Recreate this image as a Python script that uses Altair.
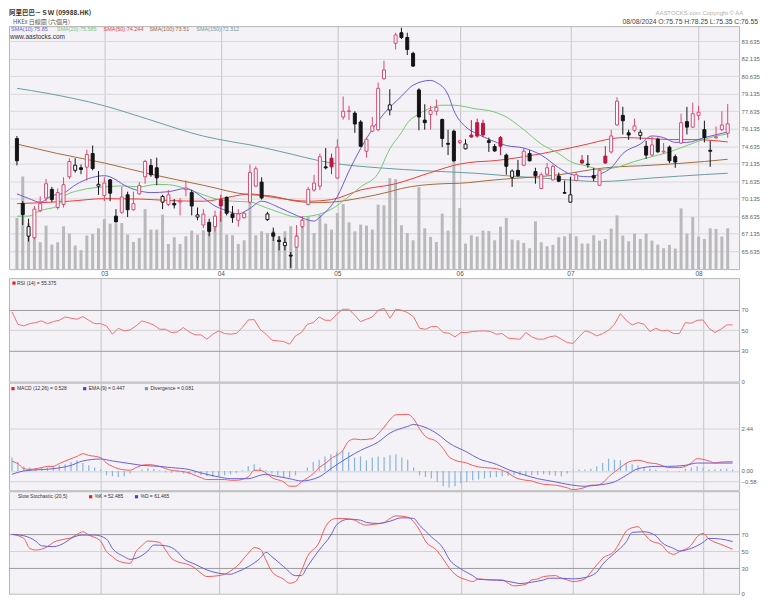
import altair as alt
import pandas as pd

# ------------------------------------------------------------------ data
OPEN = [75.29, 69.72, 66.91, 66.78, 69.10, 70.19, 70.92, 69.37, 69.64, 72.01,
        72.56, 72.78, 72.83, 74.00, 71.20, 70.40, 71.74, 68.63, 68.96, 70.46,
        69.18, 70.54, 72.01, 72.97, 72.78, 69.83, 69.64, 69.72, 69.83, 70.90,
        70.65, 68.55, 67.87, 68.09, 67.73, 70.05, 70.24, 68.82, 68.28, 68.50,
        69.83, 71.20, 71.55, 68.33, 67.19, 66.56, 66.10, 65.28, 65.96, 67.73,
        69.64, 70.87, 71.20, 72.86, 73.60, 71.90, 77.14, 77.60, 77.47, 76.71,
        74.20, 75.92, 76.05, 80.42, 77.74, 83.47, 84.37, 83.96, 82.60, 79.46,
        76.87, 77.36, 77.63, 76.92, 74.88, 75.92, 74.96, 74.41, 75.59, 76.65,
        76.60, 75.10, 74.60, 75.37, 73.87, 71.96, 72.56, 73.00, 74.00, 72.45,
        71.00, 72.23, 71.74, 72.07, 70.65, 69.83, 71.69, 73.43, 73.10, 72.10,
        71.28, 73.78, 74.14, 76.46, 77.28, 75.78, 76.00, 75.56, 74.63, 73.87,
        75.23, 74.14, 74.55, 73.73, 74.90, 76.74, 76.27, 77.28, 76.05, 74.28,
        75.35, 76.05, 75.75]
HIGH = [75.51, 69.91, 68.41, 69.50, 70.32, 71.82, 71.14, 71.00, 71.96, 73.60,
        73.60, 73.05, 74.33, 74.69, 72.50, 71.96, 71.82, 69.23, 71.14, 70.73,
        70.73, 71.55, 73.46, 73.54, 73.65, 70.46, 70.87, 70.10, 70.19, 71.69,
        70.87, 69.37, 69.23, 68.41, 69.10, 70.46, 70.32, 69.50, 69.23, 68.96,
        73.05, 72.91, 71.96, 69.00, 67.65, 66.91, 66.78, 65.55, 67.87, 68.63,
        71.14, 72.18, 74.00, 74.47, 74.00, 75.23, 78.90, 78.10, 77.63, 76.87,
        75.37, 77.14, 80.10, 81.97, 79.52, 84.37, 84.80, 84.37, 82.73, 79.60,
        78.23, 78.10, 78.64, 77.00, 76.05, 76.05, 75.18, 75.23, 76.87, 77.00,
        76.90, 75.37, 74.82, 75.51, 74.00, 72.64, 73.46, 74.47, 74.28, 72.78,
        72.37, 73.19, 73.05, 72.37, 71.69, 72.01, 72.37, 73.87, 73.87, 72.78,
        72.64, 74.63, 76.05, 78.83, 78.01, 76.05, 77.00, 76.05, 75.10, 75.45,
        75.37, 74.91, 74.69, 73.92, 77.42, 78.01, 78.37, 78.10, 76.82, 75.10,
        76.33, 77.63, 78.25]
LOW = [72.99, 67.87, 66.45, 66.64, 68.96, 69.78, 69.83, 69.18, 69.37, 71.82,
       72.37, 72.23, 71.69, 72.56, 70.46, 69.91, 69.91, 68.09, 68.82, 68.55,
       69.10, 70.46, 71.41, 72.01, 71.28, 69.23, 69.50, 69.29, 68.69, 70.32,
       68.69, 68.28, 67.60, 66.91, 67.32, 68.14, 68.69, 68.06, 67.73, 68.41,
       69.70, 71.14, 70.05, 68.22, 66.50, 65.69, 65.69, 64.19, 65.90, 67.60,
       69.56, 70.73, 70.87, 72.64, 72.23, 71.82, 76.92, 76.87, 75.78, 74.55,
       73.65, 75.83, 75.92, 80.36, 77.28, 82.93, 83.83, 82.46, 81.45, 76.00,
       76.05, 76.05, 77.28, 74.55, 73.87, 73.32, 74.82, 74.36, 75.37, 75.37,
       75.40, 74.14, 74.14, 73.87, 72.18, 71.14, 72.01, 72.91, 73.32, 71.41,
       70.95, 72.10, 71.69, 71.55, 70.54, 69.78, 71.63, 73.10, 72.78, 71.63,
       71.23, 73.10, 74.00, 76.38, 75.64, 75.18, 75.83, 75.18, 73.54, 73.78,
       74.09, 74.00, 73.19, 72.78, 74.82, 75.64, 76.19, 76.87, 74.96, 72.86,
       75.29, 75.92, 75.35]
CLOSE = [73.38, 68.77, 67.73, 69.23, 69.70, 71.41, 70.05, 70.65, 71.33, 73.32,
         73.00, 72.64, 73.92, 72.72, 71.36, 71.47, 70.60, 68.14, 70.27, 69.18,
         69.70, 71.25, 73.32, 72.18, 71.91, 70.32, 70.46, 69.59, 69.91, 71.04,
         69.50, 68.74, 68.80, 67.32, 68.63, 69.50, 68.88, 68.50, 68.82, 68.88,
         72.37, 72.70, 70.19, 68.82, 66.91, 66.45, 66.37, 65.20, 66.91, 68.28,
         70.92, 71.47, 73.73, 72.78, 72.86, 74.55, 77.63, 77.66, 76.54, 74.63,
         75.23, 76.38, 79.60, 81.18, 78.18, 84.18, 83.96, 82.93, 81.51, 77.14,
         76.65, 77.69, 77.96, 75.29, 74.80, 73.38, 75.10, 74.82, 75.42, 75.50,
         75.60, 74.96, 74.23, 74.63, 72.91, 72.50, 72.10, 74.20, 73.38, 72.10,
         72.18, 72.78, 72.91, 71.63, 70.60, 70.46, 72.18, 73.19, 73.05, 71.90,
         72.56, 73.19, 75.51, 78.50, 76.82, 75.59, 76.38, 75.83, 73.87, 74.74,
         74.14, 74.20, 73.38, 73.27, 76.65, 76.27, 77.42, 77.55, 75.37, 74.20,
         75.42, 76.45, 76.55]
VOLUME = [51.3, 93, 46, 36, 27, 43.7, 24.7, 27, 43, 35.7,
          23.7, 19, 33.7, 35.3, 41, 50.3, 45.7, 46, 46.3, 34.7,
          27.3, 31.3, 60.3, 39.7, 39.7, 54.7, 25.3, 32, 25.3, 33,
          38.7, 34.7, 39, 43.7, 53.7, 58, 34.7, 34, 25.3, 29,
          69.7, 34, 38, 36.3, 38.7, 33, 38, 43, 34.7, 49.7,
          53, 36.3, 54.7, 45.7, 39.7, 56.3, 65.3, 47, 38, 44.7,
          43.7, 39.7, 64.7, 64, 91.3, 90.3, 44, 36.3, 29, 82.3,
          41, 32.3, 27.3, 55.7, 38.7, 120, 61.3, 25.7, 34, 32.7,
          38.7, 38.3, 29, 42.7, 51.3, 29.7, 29, 26.3, 21, 48,
          27, 23, 24.3, 32, 33, 35.7, 33, 25.7, 25.7, 34,
          28.7, 30.3, 40.7, 54, 33.7, 28, 35.7, 30.3, 35.7, 28.7,
          24.7, 21, 24.3, 20.7, 61, 35.7, 52.3, 32.7, 30.3, 41,
          40.3, 32.7, 41]

MONTH_IDX = [15, 35, 55, 76, 95, 117]
MONTH_LBL = ["03", "04", "05", "06", "07", "08"]
PRICE_TICKS = [65.635, 67.135, 68.635, 70.135, 71.635, 73.135, 74.635,
               76.135, 77.635, 79.135, 80.635, 82.135, 83.635]
RSI_TICKS = [0, 30, 50, 70]
MACD_TICKS = [-0.58, 0.0, 2.44]
STOCH_TICKS = [0, 30, 50, 70, 100]

SMA10_IDX = [0, 2, 4, 6, 8, 10, 13, 15, 17, 18, 21, 23, 26, 29, 32, 34, 36, 38, 39, 40,
             42, 45, 48, 51, 52, 55, 57, 60, 63, 66, 68, 71, 72, 74, 75, 77, 79, 81, 84, 87,
             90, 93, 95, 98, 100, 102, 104, 107, 109, 111, 113, 115, 118, 122]
SMA10_VAL = [70.54, 70.15, 69.83, 70.38, 70.60, 71.30, 71.96, 72.10, 71.75, 71.41,
             70.80, 70.65, 70.73, 71.00, 70.19, 69.50, 69.10, 68.82, 69.00, 69.30,
             69.91, 69.37, 68.69, 68.20, 68.55, 70.32, 72.50, 75.30, 77.42, 78.92,
             79.87, 80.28, 80.10, 79.05, 77.69, 76.30, 75.70, 75.23, 74.69, 74.47,
             73.87, 72.78, 72.23, 72.01, 72.23, 72.78, 74.00, 74.82, 75.51, 75.37,
             74.96, 74.96, 75.37, 75.85]
SMA20_IDX = [0, 2, 4, 7, 8, 11, 15, 18, 21, 24, 26, 29, 32, 34, 37, 40, 42, 45, 48, 51,
             54, 57, 59, 62, 64, 66, 67, 69, 71, 73, 75, 79, 81, 84, 87, 90, 93, 95, 98, 100,
             103, 106, 109, 112, 115, 118, 122]
SMA20_VAL = [68.63, 68.63, 69.10, 69.50, 70.30, 70.87, 71.14, 71.22, 71.14, 71.36,
             71.33, 71.00, 70.46, 70.13, 69.91, 69.85, 69.50, 68.96, 68.55, 68.69,
             69.23, 70.32, 71.14, 72.30, 74.40, 75.80, 76.60, 77.40, 77.90, 78.15,
             78.15, 77.82, 77.69, 77.14, 76.05, 74.82, 74.00, 73.32, 72.91, 72.64,
             72.83, 73.32, 73.73, 74.14, 74.69, 75.23, 75.70]
SMA50_IDX = [0, 4, 9, 15, 21, 26, 32, 37, 40, 43, 50, 54, 59, 65, 71, 76, 79, 81, 87, 93,
             98, 101, 104, 108, 112, 116, 122]
SMA50_VAL = [69.70, 69.78, 69.91, 70.13, 70.10, 69.97, 69.91, 70.32, 70.54, 70.32,
             69.91, 70.05, 70.87, 71.41, 72.37, 73.10, 73.30, 73.35, 73.73, 74.28,
             74.82, 75.18, 75.37, 75.31, 75.20, 75.20, 75.00]
SMA100_IDX = [0, 7, 15, 23, 32, 40, 43, 48, 51, 54, 59, 64, 66, 73, 76, 82, 84, 93, 101, 109,
              118, 122]
SMA100_VAL = [74.82, 74.00, 73.19, 72.23, 71.28, 70.46, 70.40, 69.91, 69.78, 69.83,
              70.19, 70.73, 71.00, 71.41, 71.45, 71.74, 71.82, 72.18, 72.78, 73.00,
              73.32, 73.51]
SMA150_IDX = [0, 5, 15, 23, 32, 37, 40, 45, 54, 62, 71, 79, 84, 93, 100, 109, 118, 122]
SMA150_VAL = [79.60, 79.19, 78.10, 76.87, 75.50, 75.00, 74.75, 74.20, 73.19, 72.78,
              72.50, 72.30, 72.10, 71.80, 71.60, 71.90, 72.20, 72.31]

RSI = [68.1, 56.0, 54.4, 56.6, 57.6, 59.3, 56.6, 58.6, 59.9, 63.2,
       61.9, 60.9, 63.5, 59.9, 56.6, 56.6, 54.4, 46.3, 52.1, 49.5,
       50.5, 54.4, 59.3, 57.6, 55.3, 51.1, 51.1, 47.9, 48.5, 52.8,
       48.5, 45.6, 45.6, 41.4, 46.3, 49.5, 46.9, 46.3, 47.0, 52.8,
       60.2, 60.6, 51.1, 46.3, 40.4, 39.8, 39.1, 36.5, 44.6, 47.9,
       56.0, 57.6, 63.2, 59.9, 59.9, 65.8, 70.7, 70.7, 65.1, 58.6,
       60.9, 63.2, 69.7, 71.6, 61.9, 70.7, 69.7, 67.4, 63.2, 52.1,
       51.1, 53.7, 53.7, 47.9, 47.2, 43.7, 47.9, 47.9, 48.9, 49.3,
       49.5, 48.9, 46.3, 46.9, 42.4, 41.8, 41.4, 47.9, 43.7, 41.4,
       41.4, 43.7, 44.6, 41.4, 38.1, 37.2, 43.7, 49.5, 47.9, 44.6,
       46.9, 50.2, 56.0, 66.4, 59.9, 55.3, 57.6, 56.0, 48.9, 52.1,
       49.5, 50.2, 46.9, 46.9, 57.6, 57.0, 59.9, 60.2, 52.1, 47.9,
       51.1, 55.3, 55.4]

MACD_IDX = [0, 1, 2, 3, 5, 6, 7, 8, 10, 11, 12, 13, 15, 16, 17, 18, 20, 21, 22, 23,
            25, 26, 27, 28, 30, 31, 32, 33, 35, 36, 37, 38, 40, 41, 42, 43, 44, 46, 47, 48,
            49, 51, 52, 53, 54, 56, 57, 58, 59, 61, 62, 63, 64, 65, 67, 68, 69, 70, 72, 73,
            74, 75, 77, 78, 79, 80, 82, 83, 84, 85, 87, 88, 89, 90, 92, 93, 94, 95, 97, 98,
            99, 100, 101, 103, 104, 105, 106, 108, 109, 110, 111, 113, 114, 115, 116, 118, 119, 120, 122]
MACD_VAL = [0.55, 0.42, 0.13, 0.09, 0.19, 0.26, 0.26, 0.42, 0.70, 0.83,
            0.98, 0.89, 0.76, 0.45, 0.26, 0.13, 0.04, 0.19, 0.32, 0.36,
            0.26, 0.13, 0.04, 0.00, -0.11, -0.25, -0.38, -0.49, -0.49, -0.49,
            -0.53, -0.53, -0.34, 0.04, 0.04, -0.11, -0.38, -0.62, -0.87, -0.87,
            -0.62, -0.15, 0.19, 0.42, 0.70, 1.17, 1.70, 1.82, 1.78, 1.84,
            2.12, 2.50, 2.92, 3.20, 3.22, 2.97, 2.40, 1.97, 1.65, 1.27,
            0.80, 0.61, 0.45, 0.32, 0.23, 0.19, 0.13, 0.04, -0.11, -0.34,
            -0.53, -0.57, -0.68, -0.76, -0.81, -0.87, -0.96, -1.06, -0.94, -0.81,
            -0.81, -0.68, -0.34, 0.19, 0.45, 0.57, 0.61, 0.45, 0.42, 0.32,
            0.19, 0.19, 0.26, 0.45, 0.70, 0.57, 0.45, 0.51, 0.53]
EMA_IDX = [0, 2, 5, 7, 10, 12, 15, 17, 20, 22, 25, 27, 30, 32, 35, 37, 40, 42, 43, 44,
           47, 49, 52, 54, 57, 59, 62, 64, 67, 68, 69, 72, 74, 77, 79, 82, 84, 87, 89, 92,
           94, 97, 99, 102, 104, 106, 109, 111, 114, 116, 119, 122]
EMA_VAL = [-0.19, 0.00, 0.08, 0.13, 0.32, 0.57, 0.68, 0.57, 0.42, 0.32,
           0.26, 0.19, 0.08, -0.11, -0.34, -0.44, -0.44, -0.25, -0.19, -0.25,
           -0.44, -0.57, -0.34, 0.13, 0.79, 1.17, 1.65, 2.16, 2.54, 2.65,
           2.59, 2.12, 1.59, 1.08, 0.70, 0.38, 0.08, -0.25, -0.44, -0.62,
           -0.76, -0.87, -0.81, -0.62, -0.25, 0.13, 0.26, 0.26, 0.32, 0.45,
           0.45, 0.45]
DIVERGENCE = [0.76, 0.50, 0.27, 0.19, 0.13, 0.19, 0.19, 0.27, 0.32, 0.38,
              0.51, 0.61, 0.45, 0.32, 0.19, 0.08, -0.25, -0.30, -0.34, -0.30,
              -0.15, 0.00, 0.08, 0.15, 0.11, 0.04, -0.08, -0.11, -0.08, -0.15,
              -0.19, -0.15, -0.25, -0.30, -0.34, -0.30, -0.25, -0.19, -0.11, 0.04,
              0.27, 0.38, 0.19, 0.04, -0.15, -0.25, -0.34, -0.38, -0.25, 0.00,
              0.19, 0.51, 0.64, 0.83, 0.95, 1.08, 1.17, 1.08, 0.76, 0.83,
              0.61, 0.76, 0.83, 0.80, 0.89, 0.95, 0.76, 0.64, 0.19, -0.25,
              -0.34, -0.43, -0.62, -0.87, -0.95, -0.87, -0.72, -0.62, -0.53, -0.49,
              -0.43, -0.38, -0.34, -0.30, -0.27, -0.25, -0.25, -0.30, -0.25, -0.21,
              -0.19, -0.23, -0.27, -0.30, -0.15, 0.04, 0.08, 0.08, 0.13, 0.27,
              0.45, 0.70, 0.64, 0.61, 0.45, 0.38, 0.32, 0.19, 0.13, 0.08,
              0.00, 0.04, 0.00, -0.04, 0.13, 0.19, 0.27, 0.19, 0.08, 0.08,
              0.11, 0.13, 0.08]

K_IDX = [0, 2, 3, 4, 6, 7, 9, 10, 11, 12, 13, 15, 16, 17, 18, 20, 21, 22, 23, 25,
         26, 27, 28, 30, 31, 32, 33, 35, 36, 37, 38, 40, 41, 42, 43, 44, 46, 47, 48, 49,
         50, 52, 53, 54, 55, 56, 58, 59, 60, 61, 63, 64, 65, 67, 68, 69, 70, 72, 73, 74,
         75, 77, 78, 79, 81, 83, 84, 85, 87, 88, 89, 90, 92, 93, 94, 95, 97, 98, 99, 100,
         102, 103, 104, 105, 106, 107, 108, 110, 111, 112, 113, 115, 116, 117, 118, 120, 122]
K_VAL = [70, 65.3, 53.5, 51.5, 55.5, 60.5, 64.5, 66, 70, 73.1,
         69.2, 62.1, 49.6, 43.7, 38.6, 35.8, 49.6, 56.6, 62.1, 60.5,
         51.5, 41.7, 37.8, 33.9, 30, 24.1, 20.2, 21.3, 22.9, 26.8,
         31.9, 47.6, 54.3, 52.7, 39.8, 26, 17, 12.3, 14.3, 26.8,
         43.7, 60.5, 77.8, 86.8, 88.8, 88.8, 86.8, 82.9, 80.9, 81.7,
         84.1, 88.8, 91.9, 90.4, 84.9, 75.1, 62.1, 50.4, 40.9, 30.7,
         22.9, 16.2, 14.3, 17.4, 16.2, 16.2, 12.3, 9.2, 11.1, 16.2,
         17.4, 20.2, 21.3, 18.2, 16.2, 14.3, 17.4, 25.3, 33.9, 41.7,
         50.4, 62.1, 73.9, 77.8, 79, 71.1, 63.3, 57.4, 49.6, 46.4,
         49.6, 57.4, 67.2, 71.1, 64.5, 58.2, 52.5]
D_IDX = [0, 2, 4, 5, 7, 9, 10, 12, 14, 16, 17, 19, 20, 21, 23, 24, 26, 28, 29, 31,
         33, 35, 37, 38, 40, 42, 43, 44, 46, 48, 49, 50, 52, 54, 55, 57, 59, 60, 62, 64,
         66, 68, 69, 71, 73, 74, 76, 78, 79, 81, 83, 85, 86, 88, 90, 91, 93, 95, 97, 99,
         100, 102, 104, 105, 107, 109, 110, 112, 113, 115, 117, 118, 120, 122]
D_VAL = [70, 68.4, 62.1, 56.6, 55.5, 60.5, 65.3, 69.2, 69.2, 64.5,
         53.5, 43.7, 40.5, 41.7, 50.4, 57.4, 56.6, 49.6, 41.7, 34.7,
         28, 24.1, 22.9, 25.3, 31.9, 41.7, 48.8, 43.7, 31.9, 21.3,
         21.3, 31.9, 51.5, 69.2, 81.7, 88, 86.8, 84.1, 82.9, 85.6,
         89.6, 88.8, 80.9, 67.2, 53.5, 40.9, 29.2, 21.3, 17, 16.2,
         15.5, 13.1, 11.9, 13.5, 16.2, 18.2, 18.2, 17.4, 19, 25.3,
         34.7, 47.6, 61.3, 72.3, 73.1, 68.4, 60.5, 53.5, 50.4, 53.5,
         60.5, 65.3, 64.5, 61.5]

# ------------------------------------------------------------------ styles
PINK = "#d94a73"
RED_FILL = "#c0163e"
BLACK = "#141414"
C_SMA10, C_SMA20, C_SMA50, C_SMA100, C_SMA150 = "#6b5bd6", "#74c874", "#ef3b3b", "#a86a3a", "#6a9ca2"
C_RED_LINE, C_BLUE_LINE, C_DIV = "#f25c5c", "#6a5fd8", "#86b4e0"
FONT = "Liberation Sans"
CJK = "Noto Sans CJK TC"
W = 733
MAIN_H = 244

n = len(CLOSE)
fills, strokes = [], []
for k in range(n):
    prev = CLOSE[k - 1] if k > 0 else OPEN[k]
    up = CLOSE[k] >= prev
    hollow = CLOSE[k] >= OPEN[k]
    if hollow:
        fills.append("#ffffff")
        strokes.append(PINK if up else BLACK)
    else:
        f = RED_FILL if up else BLACK
        fills.append(f)
        strokes.append(f)

candles = pd.DataFrame({"i": list(range(n)), "o": OPEN, "h": HIGH, "l": LOW, "c": CLOSE,
                        "vol": VOLUME, "fillc": fills, "strokec": strokes})

XS = alt.Scale(domain=[-0.506, 123.1], nice=False, zero=False)
month_expr = " : ".join(f"datum.value == {i} ? '{m}'" for i, m in zip(MONTH_IDX, MONTH_LBL)) + " : ''"
AX_MAIN_X = alt.Axis(values=MONTH_IDX, labelExpr=month_expr, grid=True, gridColor="#c4c4c4",
                     ticks=False, tickSize=0, domain=False, labelFontSize=6.5, labelColor="#555555",
                     labelPadding=1, labelFont=FONT, title=None)
AX_SUB_X = alt.Axis(values=MONTH_IDX, labels=False, ticks=False, tickSize=0, domain=False,
                    grid=True, gridColor="#c4c4c4", title=None)


def X(ax):
    return alt.X("i:Q", scale=XS, axis=ax, title=None)


def yaxis(values, fmt=None, grid_color="#d8d8d8", label_expr=None):
    kw = dict(orient="right", values=values, grid=True, gridColor=grid_color, ticks=False,
              tickSize=0, domain=False, labelFontSize=6, labelColor="#666666", labelPadding=2,
              labelFont=FONT, title=None)
    if fmt:
        kw["format"] = fmt
    if label_expr:
        kw["labelExpr"] = label_expr
    return alt.Axis(**kw)


one = pd.DataFrame({"k": [0]})


def txt(s, x, y, size=5.5, color="#333333", weight="normal", align="left", font=FONT):
    return alt.Chart(one).mark_text(text=s, align=align, baseline="top", fontSize=size, color=color,
                                    fontWeight=weight, font=font).encode(x=alt.value(x), y=alt.value(y))


def sq(x, y, color):
    return alt.Chart(one).mark_square(size=10, color=color, opacity=1).encode(x=alt.value(x), y=alt.value(y))


def sline(idx, vals, color, scale, ax_x, interp="monotone"):
    df = pd.DataFrame({"i": idx, "v": vals})
    return alt.Chart(df).mark_line(color=color, strokeWidth=1, interpolate=interp).encode(
        x=X(ax_x), y=alt.Y("v:Q", scale=scale, axis=None))


# ------------------------------------------------------------------ main panel
PS = alt.Scale(domain=[64.08, 84.94], nice=False, zero=False)
vol = alt.Chart(candles).mark_bar(size=3, color="#b9b9b9").encode(
    x=X(AX_MAIN_X), y=alt.Y("vol:Q", scale=alt.Scale(domain=[0, MAIN_H], nice=False, zero=True), axis=None))
wick = alt.Chart(candles).mark_rule(strokeWidth=1).encode(
    x=X(AX_MAIN_X), y=alt.Y("l:Q", scale=PS, axis=yaxis(PRICE_TICKS, ".3f")), y2="h:Q",
    color=alt.Color("strokec:N", scale=None))
body = alt.Chart(candles).mark_bar(size=3, strokeWidth=1).encode(
    x=X(AX_MAIN_X), y=alt.Y("o:Q", scale=PS, axis=None), y2="c:Q",
    fill=alt.Fill("fillc:N", scale=None), stroke=alt.Stroke("strokec:N", scale=None))

main_texts = [
    txt("阿里巴巴－ＳＷ (09988.HK)", 0, -16, size=6.5, color="#333333", weight="bold", font=CJK),
    txt("HKEx 日線圖 (六個月)", 4, -7.5, size=6, color="#555555", font=CJK),
    txt("AASTOCKS.com Copyright © AA", 649, -16, size=6, color="#b0b0b0"),
    txt("08/08/2024   O:75.75  H:78.25  L:75.35  C:76.55", 752, -7.5, size=6.8, color="#444444", align="right"),
    txt("SMA(10):75.85", 2, 1, color=C_SMA10),
    txt("SMA(20):75.585", 48, 1, color=C_SMA20),
    txt("SMA(50):74.244", 95, 1, color=C_SMA50),
    txt("SMA(100):73.51", 141, 1, color=C_SMA100),
    txt("SMA(150):72.312", 188, 1, color=C_SMA150),
    txt("www.aastocks.com", 1, 7.5, size=6.5, color="#333333"),
]

main = alt.layer(
    vol,
    sline(SMA150_IDX, SMA150_VAL, C_SMA150, PS, AX_MAIN_X),
    sline(SMA100_IDX, SMA100_VAL, C_SMA100, PS, AX_MAIN_X),
    sline(SMA50_IDX, SMA50_VAL, C_SMA50, PS, AX_MAIN_X),
    sline(SMA20_IDX, SMA20_VAL, C_SMA20, PS, AX_MAIN_X),
    sline(SMA10_IDX, SMA10_VAL, C_SMA10, PS, AX_MAIN_X),
    wick, body, *main_texts
).resolve_scale(y="independent").properties(width=W, height=MAIN_H)

# ------------------------------------------------------------------ RSI
dark_grid = {"condition": {"test": "datum.value == 70 || datum.value == 30", "value": "#9a9a9a"},
             "value": "#d2d2d2"}
RS = alt.Scale(domain=[-0.24, 101.2], nice=False, zero=False)
rsi_line = alt.Chart(pd.DataFrame({"i": list(range(len(RSI))), "v": RSI})).mark_line(
    color="#f07070", strokeWidth=1).encode(x=X(AX_SUB_X), y=alt.Y("v:Q", scale=RS, axis=yaxis(RSI_TICKS, grid_color=dark_grid)))
rsi = alt.layer(rsi_line, sq(5, 5, "#e02020"), txt("RSI (14) = 55.375", 8, 2.5, size=5)).properties(width=W, height=104)

# ------------------------------------------------------------------ MACD
MS = alt.Scale(domain=[-1.10, 5.03], nice=False, zero=False)
div_df = pd.DataFrame({"i": list(range(len(DIVERGENCE))), "v": DIVERGENCE, "z": [0.0] * len(DIVERGENCE)})
div = alt.Chart(div_df).mark_rule(color=C_DIV, strokeWidth=1.2).encode(
    x=X(AX_SUB_X), y=alt.Y("v:Q", scale=MS, axis=yaxis(MACD_TICKS, ".2f", grid_color="#d2d2d2")), y2="z:Q")
macd = alt.layer(
    div,
    sline(MACD_IDX, MACD_VAL, C_RED_LINE, MS, AX_SUB_X),
    sline(EMA_IDX, EMA_VAL, C_BLUE_LINE, MS, AX_SUB_X),
    sq(4, 6, "#e02020"), txt("MACD (12,26) = 0.528", 8, 3.5, size=5),
    sq(76, 6, "#4a3fc8"), txt("EMA (9) = 0.447", 80, 3.5, size=5),
    sq(138, 6, "#5a9ad8"), txt("Divergence = 0.081", 142, 3.5, size=5),
).resolve_scale(y="independent").properties(width=W, height=108)

# ------------------------------------------------------------------ Stochastic
SS = alt.Scale(domain=[-0.25, 120.95], nice=False, zero=False)
k_line = alt.Chart(pd.DataFrame({"i": K_IDX, "v": K_VAL})).mark_line(
    color=C_RED_LINE, strokeWidth=1, interpolate="monotone").encode(
    x=X(AX_SUB_X), y=alt.Y("v:Q", scale=SS, axis=yaxis(STOCH_TICKS, grid_color=dark_grid,
                                                        label_expr="datum.value == 100 ? '' : datum.label")))
stoch = alt.layer(
    k_line,
    sline(D_IDX, D_VAL, C_BLUE_LINE, SS, AX_SUB_X),
    txt("Slow Stochastic (20,5)", 9, 3, size=5),
    sq(82, 5.5, "#e02020"), txt("%K = 52.485", 86, 3, size=5),
    sq(128, 5.5, "#4a3fc8"), txt("%D = 61.465", 132, 3, size=5),
).resolve_scale(y="independent").properties(width=W, height=103)

lower = alt.vconcat(rsi, macd, stoch, spacing=1, bounds="flush")

chart = alt.vconcat(main, lower, spacing=0).properties(
    padding={"left": 0, "top": 0, "right": 0, "bottom": 0}
).configure_view(stroke="#b5b5b5", strokeWidth=1, fill="#f4f2f6").configure_axis(labelFont=FONT)

chart.save("out.html", embed_options={"renderer": "svg", "actions": False})
